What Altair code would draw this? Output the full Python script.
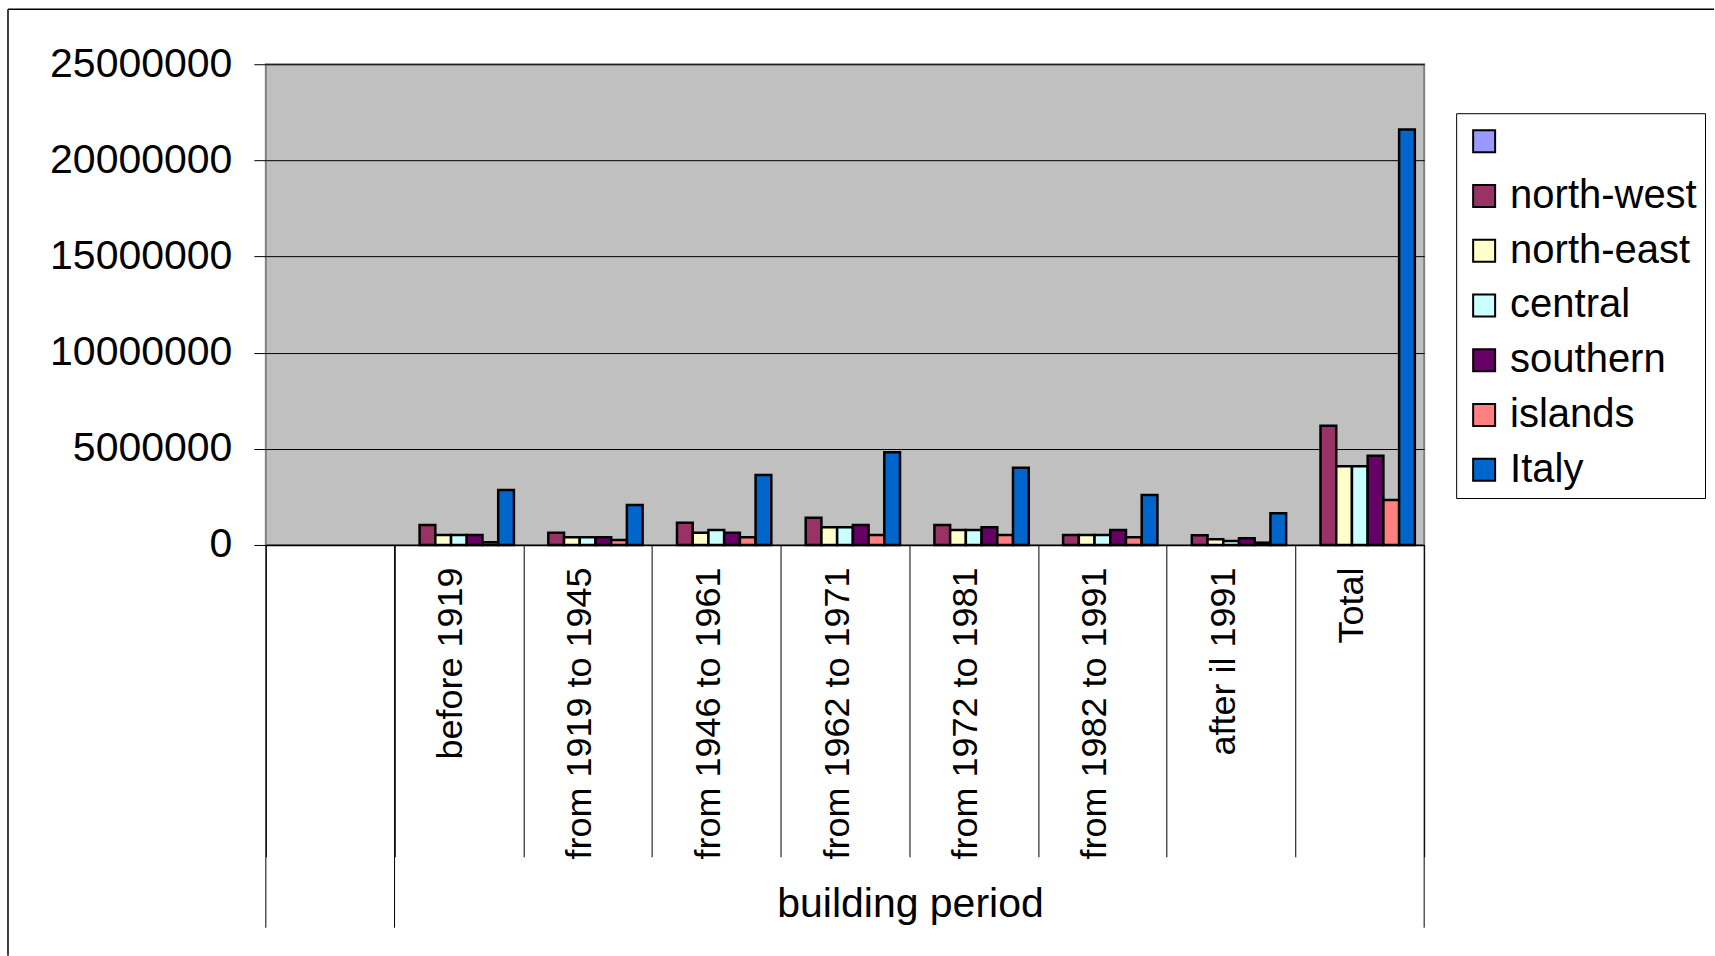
import altair as alt
import pandas as pd

categories = ["", "before 1919", "from 1919 to 1945", "from 1946 to 1961",
              "from 1962 to 1971", "from 1972 to 1981", "from 1982 to 1991",
              "after il 1991", "Total"]
periods = categories[1:]

series = [" ", "north-west", "north-east", "central", "southern", "islands", "Italy"]
colors = ["#9999FF", "#993366", "#FFFFCC", "#CCFFFF", "#660066", "#FF8080", "#0066CC"]

north_west = [1040000, 640000, 1160000, 1420000, 1040000, 520000, 500000, 6200000]
north_east = [520000, 400000, 640000, 920000, 780000, 520000, 300000, 4090000]
central = [520000, 400000, 780000, 920000, 780000, 520000, 200000, 4090000]
southern = [520000, 400000, 640000, 1040000, 920000, 780000, 350000, 4640000]
islands = [140000, 260000, 400000, 520000, 520000, 400000, 120000, 2340000]
italy = [2860000, 2080000, 3640000, 4820000, 4020000, 2600000, 1650000, 21600000]

y_ticks = [0, 5000000, 10000000, 15000000, 20000000, 25000000]

rows = []
for name, vals in [("north-west", north_west), ("north-east", north_east),
                   ("central", central), ("southern", southern),
                   ("islands", islands), ("Italy", italy)]:
    for p, v in zip(periods, vals):
        rows.append({"period": p, "series": name, "value": v})
df = pd.DataFrame(rows)

W, H = 1159, 481
FONT = "Liberation Sans"

x_scale = alt.Scale(domain=categories, paddingInner=0, paddingOuter=0)

bars = alt.Chart(df).mark_bar(stroke="black", strokeWidth=2.5).encode(
    x=alt.X("period:N", scale=x_scale, sort=categories, title="building period",
            axis=alt.Axis(tickBand="extent", tickSize=312, tickColor="black", tickWidth=1,
                          labelAngle=-90, labelFontSize=36, labelColor="black",
                          labelPadding=-290, labelOffset=-8, labelLimit=500,
                          domainColor="black", domainWidth=1.5, grid=False,
                          titleFontSize=41, titleFontWeight="normal", titleColor="black",
                          titleX=644.5, titleY=360, titleAlign="center",
                          titleBaseline="middle")),
    xOffset=alt.XOffset("series:N", sort=series,
                        scale=alt.Scale(domain=series, paddingInner=0, paddingOuter=0.594)),
    y=alt.Y("value:Q", scale=alt.Scale(domain=[0, 25000000], nice=False),
            axis=alt.Axis(values=y_ticks, format="d", tickSize=12, tickColor="black",
                          labelFontSize=41, labelColor="black", labelPadding=22,
                          labelLimit=500,
                          domain=False, gridColor="black", gridWidth=1, gridOpacity=1,
                          title=None)),
    color=alt.Color("series:N", scale=alt.Scale(domain=series, range=colors),
                    legend=alt.Legend(title=None, orient="none", legendX=1191, legendY=49,
                                      symbolType="square", symbolSize=484,
                                      symbolStrokeColor="black", symbolStrokeWidth=2,
                                      symbolOpacity=1, labelFontSize=40, labelColor="black",
                                      labelOffset=6, rowPadding=14.8, padding=8,
                                      strokeColor="black", fillColor="white",
                                      labelLimit=500)),
)

edge_left = alt.Chart(pd.DataFrame({"period": ["", "before 1919"]})).mark_rule(
    color="black", strokeWidth=1).encode(
    x=alt.X("period:N", bandPosition=0, title="building period"),
    y=alt.value(H), y2=alt.value(864))

edge_right = alt.Chart(pd.DataFrame({"period": ["Total"]})).mark_rule(
    color="black", strokeWidth=1).encode(
    x=alt.X("period:N", bandPosition=1, title="building period"),
    y=alt.value(H), y2=alt.value(864))

one = pd.DataFrame({"k": [0]})
border_left = alt.Chart(one).mark_rule(color="black", strokeWidth=1.5).encode(
    x=alt.value(-258), y=alt.value(-55), y2=alt.value(892))
border_top = alt.Chart(one).mark_rule(color="black", strokeWidth=1.5).encode(
    x=alt.value(-258), x2=alt.value(1449), y=alt.value(-55))

chart = alt.layer(bars, edge_left, edge_right, border_left, border_top).properties(
    width=W, height=H,
    padding={"left": 7, "top": 8, "right": 0, "bottom": 0},
    background="white",
).configure(font=FONT).configure_view(fill="#C0C0C0", stroke="#808080", strokeWidth=2)

chart.save("out.html", embed_options={"renderer": "svg", "actions": False})
